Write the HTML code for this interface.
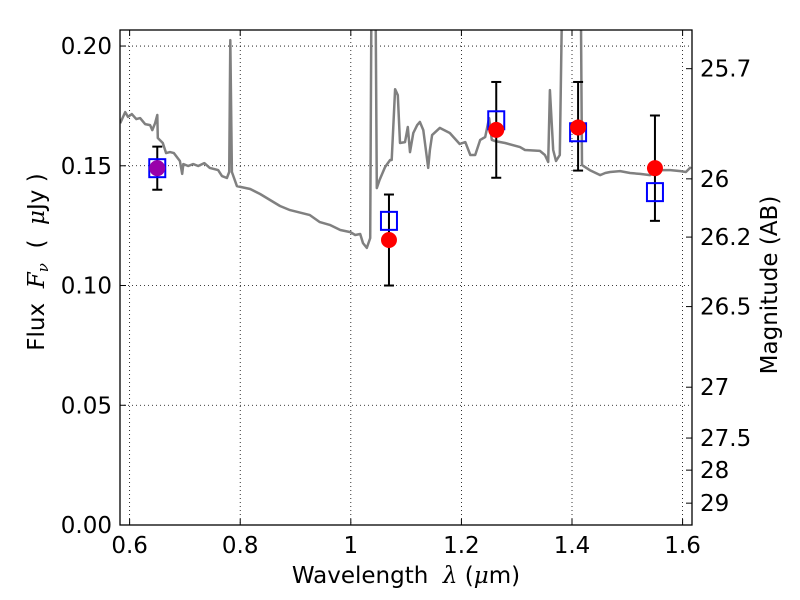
<!DOCTYPE html>
<html><head><meta charset="utf-8">
<style>
body{margin:0;background:#fff;}
svg{display:block;font-family:"DejaVu Sans","Liberation Sans",sans-serif;}
text{white-space:pre;}
</style></head>
<body>
<svg id="chart" width="800" height="600"></svg>
<script>
const specLambda=[0.583,0.592,0.597,0.604,0.612,0.619,0.628,0.637,0.641,0.646,0.650,0.651,0.660,0.666,0.673,0.680,0.691,0.695,0.697,0.706,0.715,0.724,0.735,0.745,0.760,0.767,0.776,0.780,0.782,0.785,0.794,0.818,0.836,0.872,0.890,0.926,0.944,0.962,0.981,0.999,1.008,1.017,1.022,1.029,1.035,1.038,1.044,1.047,1.052,1.062,1.071,1.074,1.080,1.085,1.089,1.098,1.103,1.107,1.113,1.120,1.125,1.131,1.140,1.143,1.147,1.161,1.179,1.197,1.207,1.216,1.225,1.234,1.243,1.250,1.255,1.261,1.279,1.306,1.315,1.342,1.351,1.357,1.360,1.366,1.371,1.378,1.384,1.415,1.418,1.432,1.451,1.460,1.469,1.487,1.505,1.523,1.541,1.559,1.578,1.596,1.606,1.615];
const specFlux=[0.1678,0.1724,0.1704,0.1716,0.1695,0.1699,0.1674,0.1670,0.1649,0.1678,0.1712,0.1616,0.1595,0.1553,0.1557,0.1553,0.1520,0.1466,0.1507,0.1499,0.1507,0.1499,0.1511,0.1491,0.1482,0.1457,0.1449,0.1474,0.2025,0.1474,0.1415,0.1403,0.1382,0.1332,0.1315,0.1294,0.1265,0.1253,0.1232,0.1223,0.1211,0.1215,0.1177,0.1157,0.1198,0.25,0.25,0.1407,0.1441,0.1495,0.1524,0.1524,0.1820,0.1795,0.1595,0.1599,0.1662,0.1557,0.1637,0.1670,0.1683,0.1649,0.1491,0.1566,0.1628,0.1658,0.1637,0.1591,0.1599,0.1545,0.1545,0.1608,0.1620,0.1699,0.1608,0.1603,0.1595,0.1578,0.1566,0.1562,0.1545,0.1516,0.1816,0.1566,0.1520,0.1545,0.25,0.25,0.1503,0.1482,0.1461,0.1470,0.1474,0.1478,0.1470,0.1466,0.1461,0.1482,0.1482,0.1478,0.1474,0.1495];
const bandLambda=[0.650,1.069,1.263,1.411,1.550];
const obsFlux=[0.149,0.119,0.165,0.166,0.149];
const errLow=[0.140,0.100,0.145,0.148,0.127];
const errHigh=[0.158,0.138,0.185,0.185,0.171];
const modelFlux=[0.149,0.127,0.169,0.164,0.139];
const xTicks=[0.6,0.8,1.0,1.2,1.4,1.6];
const xTickLabels=["0.6","0.8","1","1.2","1.4","1.6"];
const yTicks=[0,0.05,0.10,0.15,0.20];
const yTickLabels=["0.00","0.05","0.10","0.15","0.20"];
const magTicks=[25.7,26,26.2,26.5,27,27.5,28,29];
const magTickLabels=["25.7","26","26.2","26.5","27","27.5","28","29"];

const L=120,R=692,T=30,B=525;
const xmin=0.5826,xmax=1.6170,ymin=0,ymax=0.2067;
const X=v=>L+(v-xmin)/(xmax-xmin)*(R-L);
const Y=v=>B-(v-ymin)/(ymax-ymin)*(B-T);
const magToFlux=m=>Math.pow(10,(23.9-m)/2.5);
const svg=document.getElementById('chart');
const NS='http://www.w3.org/2000/svg';
function mk(tag,attrs,parent){const e=document.createElementNS(NS,tag);for(const k in attrs)e.setAttribute(k,attrs[k]);(parent||svg).appendChild(e);return e;}
const FS=23;

const defs=mk('defs',{});
const cp=mk('clipPath',{id:'clip'},defs);
mk('rect',{x:L,y:T,width:R-L,height:B-T},cp);

const grid=mk('g',{});


xTicks.forEach(v=>mk('line',{x1:X(v),x2:X(v),y1:T,y2:B,stroke:'#000','stroke-width':0.8,'stroke-dasharray':'1,3'},grid));
yTicks.forEach(v=>mk('line',{x1:L,x2:R,y1:Y(v),y2:Y(v),stroke:'#000','stroke-width':0.8,'stroke-dasharray':'1,3'},grid));

const pts=specLambda.map((l,i)=>X(l).toFixed(1)+','+Y(specFlux[i]).toFixed(1)).join(' ');
const spec=mk('polyline',{points:pts,fill:'none',stroke:'#808080','stroke-width':2.5,'clip-path':'url(#clip)','stroke-linejoin':'round'});



bandLambda.forEach((l,i)=>{
  const g=mk('g',{});
  
  
  const x=X(l);
  mk('line',{x1:x,x2:x,y1:Y(errLow[i]),y2:Y(errHigh[i]),stroke:'#000','stroke-width':2},g);
  mk('line',{x1:x-5,x2:x+5,y1:Y(errLow[i]),y2:Y(errLow[i]),stroke:'#000','stroke-width':2},g);
  mk('line',{x1:x-5,x2:x+5,y1:Y(errHigh[i]),y2:Y(errHigh[i]),stroke:'#000','stroke-width':2},g);
});
bandLambda.forEach((l,i)=>{
  const r=mk('rect',{x:X(l)-8,y:Y(modelFlux[i])-9,width:16,height:18,fill:'none',stroke:'#0000ff','stroke-width':2});
  
  
});
bandLambda.forEach((l,i)=>{
  const c=mk('circle',{cx:X(l),cy:Y(obsFlux[i]),r:8,fill:i===0?'#9900aa':'#ff0000'});
  
  
});

const fr=mk('rect',{x:L,y:T,width:R-L,height:B-T,fill:'none',stroke:'#000','stroke-width':1.3});



xTicks.forEach((v,i)=>{
  mk('line',{x1:X(v),x2:X(v),y1:B,y2:B-6,stroke:'#000'});
  mk('line',{x1:X(v),x2:X(v),y1:T,y2:T+6,stroke:'#000'});
  const t=mk('text',{x:X(v),y:B+28,'text-anchor':'middle','font-size':FS});
  t.textContent=xTickLabels[i];
  
  
});
yTicks.forEach((v,i)=>{
  mk('line',{x1:L,x2:L+6,y1:Y(v),y2:Y(v),stroke:'#000'});
  const t=mk('text',{x:L-8,y:Y(v)+8,'text-anchor':'end','font-size':FS});
  t.textContent=yTickLabels[i];
  
  
});
magTicks.forEach((m,i)=>{
  const y=Y(magToFlux(m));
  mk('line',{x1:R,x2:R-6,y1:y,y2:y,stroke:'#000'});
  const t=mk('text',{x:R+8,y:y+8,'text-anchor':'start','font-size':FS});
  t.textContent=magTickLabels[i];
  
  
});

const xt=mk('text',{x:406,y:583,'text-anchor':'middle','font-size':FS});
xt.innerHTML='Wavelength&#160;&#160;<tspan font-style="italic" font-family="DejaVu Serif, serif">λ</tspan>&#160;(<tspan font-style="italic" font-family="DejaVu Serif, serif">μ</tspan>m)';


const yt=mk('text',{x:0,y:0,'text-anchor':'middle','font-size':FS,transform:'translate(44,262) rotate(-90)'});
yt.innerHTML='Flux&#160;&#160;<tspan font-style="italic" font-family="DejaVu Serif, serif">F</tspan><tspan font-style="italic" font-size="15" dy="4" font-family="DejaVu Serif, serif">ν</tspan><tspan dy="-4">&#160;&#160;(&#160;&#160;</tspan><tspan font-style="italic" font-family="DejaVu Serif, serif">μ</tspan>Jy&#160;)';


const rt=mk('text',{x:0,y:0,'text-anchor':'middle','font-size':FS,transform:'translate(777,285) rotate(-90)'});
rt.textContent='Magnitude (AB)';


</script>
</body></html>
